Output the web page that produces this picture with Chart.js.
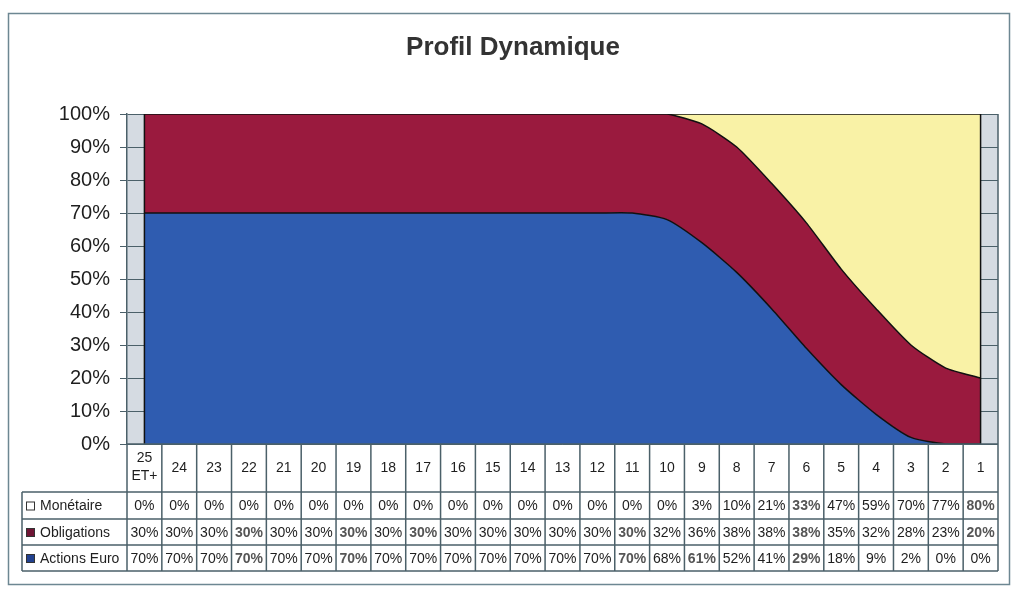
<!DOCTYPE html>
<html lang="fr">
<head>
<meta charset="utf-8">
<title>Profil Dynamique</title>
<script src="https://cdn.jsdelivr.net/npm/chart.js@4.4.1/dist/chart.umd.min.js"></script>
<style>
  html, body { margin: 0; padding: 0; background: #fff; }
  #wrap { width: 1013px; height: 594px; }
</style>
</head>
<body>
<div id="wrap"><canvas id="profil" width="1013" height="594"></canvas></div>
<script>
// Profil Dynamique - répartition par horizon (années restantes)

const CATEGORIES  = [["25", "ET+"], "24", "23", "22", "21", "20", "19", "18", "17", "16", "15", "14", "13",
                     "12", "11", "10", "9", "8", "7", "6", "5", "4", "3", "2", "1"];
const MONETAIRE   = [0, 0, 0, 0, 0, 0, 0, 0, 0, 0, 0, 0, 0, 0, 0, 0, 3, 10, 21, 33, 47, 59, 70, 77, 80];
const OBLIGATIONS = [30, 30, 30, 30, 30, 30, 30, 30, 30, 30, 30, 30, 30, 30, 30, 32, 36, 38, 38, 38, 35, 32, 28, 23, 20];
const ACTIONS     = [70, 70, 70, 70, 70, 70, 70, 70, 70, 70, 70, 70, 70, 70, 70, 68, 61, 52, 41, 29, 18, 9, 2, 0, 0];

const FONT = "'Liberation Sans', Arial, sans-serif";
const LINE = "#4b6069";

// rows of the data table, top to bottom (as in the original sheet)
const TABLE_ROWS = [
    { name: "Monétaire",    values: MONETAIRE,   swatch: "#ffffff", bold: [19, 24] },
    { name: "Obligations",  values: OBLIGATIONS, swatch: "#6e1434", bold: [3, 6, 8, 14, 19, 24] },
    { name: "Actions Euro", values: ACTIONS,     swatch: "#22418f", bold: [3, 6, 14, 16, 19] }
];

const tablePlugin = {
    id: "tablePlugin",
    beforeDraw: function (chart) {
        var c = chart.ctx, a = chart.chartArea;
        c.save();
        c.fillStyle = "#ffffff";
        c.fillRect(0, 0, chart.width, chart.height);
        c.fillStyle = "#d5dbe2";   // grey walls on both sides of the areas
        c.fillRect(a.left, a.top, a.right - a.left, a.bottom - a.top);
        c.restore();
    },
    afterDatasetsDraw: function (chart) {
        var c = chart.ctx, xs = chart.scales.x, ys = chart.scales.y;
        var x0 = xs.getPixelForValue(0), xN = xs.getPixelForValue(CATEGORIES.length - 1);
        c.save();
        c.strokeStyle = "#111";
        c.lineWidth = 1.5;
        c.beginPath();
        c.moveTo(x0, ys.getPixelForValue(0)); c.lineTo(x0, ys.getPixelForValue(100));
        c.moveTo(xN, ys.getPixelForValue(0)); c.lineTo(xN, ys.getPixelForValue(100));
        c.stroke();
        c.restore();
    },
    afterDraw: function (chart) {
        var c = chart.ctx, xs = chart.scales.x, ys = chart.scales.y, a = chart.chartArea;
        var half = (xs.getPixelForValue(1) - xs.getPixelForValue(0)) / 2;
        var top = ys.getPixelForValue(0);
        var rowY = [top, top + 48, top + 75, top + 101, top + 127];
        var legendLeft = 22;

        c.save();
        // outer frame
        c.strokeStyle = "#6d8792";
        c.lineWidth = 1.5;
        c.strokeRect(8.5, 13.5, 1001, 571);

        // chart area right edge + base line
        c.strokeStyle = LINE;
        c.beginPath();
        c.moveTo(a.right, a.top); c.lineTo(a.right, a.bottom);
        c.moveTo(a.left, top); c.lineTo(a.right, top);
        c.stroke();

        // table grid
        c.beginPath();
        for (var r = 1; r < rowY.length; r++) {
            c.moveTo(legendLeft, rowY[r]); c.lineTo(a.right, rowY[r]);
        }
        c.moveTo(legendLeft, rowY[1]); c.lineTo(legendLeft, rowY[4]);
        for (var i = 0; i <= CATEGORIES.length; i++) {
            var xb = i < CATEGORIES.length ? xs.getPixelForValue(i) - half : xs.getPixelForValue(i - 1) + half;
            c.moveTo(xb, rowY[0]); c.lineTo(xb, rowY[4]);
        }
        c.stroke();

        // category labels
        c.fillStyle = "#1e1e1e";
        c.font = "14px " + FONT;
        c.textAlign = "center";
        c.textBaseline = "middle";
        for (var k = 0; k < CATEGORIES.length; k++) {
            var cx = xs.getPixelForValue(k);
            var lab = CATEGORIES[k];
            if (Array.isArray(lab)) {
                c.fillText(lab[0], cx, rowY[0] + 14);
                c.fillText(lab[1], cx, rowY[0] + 32);
            } else {
                c.fillText(lab, cx, rowY[0] + 24);
            }
        }

        // data rows
        for (var j = 0; j < TABLE_ROWS.length; j++) {
            var row = TABLE_ROWS[j];
            var cy = (rowY[j + 1] + rowY[j + 2]) / 2 + 1;
            // legend key
            c.fillStyle = row.swatch;
            c.fillRect(26, cy - 5, 9, 9);
            c.strokeStyle = "#333";
            c.lineWidth = 1;
            c.strokeRect(26.5, cy - 4.5, 8, 8);
            c.fillStyle = "#1e1e1e";
            c.font = "14px " + FONT;
            c.textAlign = "left";
            c.fillText(row.name, 40, cy);
            c.textAlign = "center";
            for (var m = 0; m < row.values.length; m++) {
                var em = row.bold.indexOf(m) >= 0;
                c.font = (em ? "bold " : "") + "14px " + FONT;
                c.fillStyle = em ? "#555" : "#1e1e1e";
                c.fillText(row.values[m] + "%", xs.getPixelForValue(m), cy);
            }
        }
        c.restore();
    }
};

new Chart(document.getElementById("profil"), {
    type: "line",
    data: {
        labels: CATEGORIES,
        datasets: [
            { label: "Actions Euro", data: ACTIONS,     backgroundColor: "#2f5cb0", fill: "origin" },
            { label: "Obligations",  data: OBLIGATIONS, backgroundColor: "#9a1a3e", fill: "-1" },
            { label: "Monétaire",    data: MONETAIRE,   backgroundColor: "#f9f2a6", fill: "-1" }
        ].map(function (d) {
            d.borderColor = "#111";
            d.borderWidth = 1.5;
            d.pointRadius = 0;
            d.tension = 0.2;
            return d;
        })
    },
    options: {
        responsive: false,
        animation: false,
        layout: { padding: { left: 28, right: 15, top: 13, bottom: 150 } },
        plugins: {
            legend: { display: false },
            tooltip: { enabled: false },
            title: {
                display: true,
                text: "Profil Dynamique",
                color: "#333",
                font: { family: FONT, size: 26, weight: "bold", lineHeight: 1.2 },
                padding: { top: 19.4, bottom: 50.4 }
            }
        },
        scales: {
            x: { display: false, offset: true },
            y: {
                stacked: true,
                min: 0,
                max: 100,
                afterFit: function (s) { s.width = 99; },
                border: { display: true, color: LINE, width: 1.5 },
                grid: { color: LINE, lineWidth: 1, tickLength: 7 },
                ticks: {
                    stepSize: 10,
                    padding: 10,
                    color: "#1e1e1e",
                    font: { family: FONT, size: 20 },
                    callback: function (v) { return v + "%"; }
                }
            }
        }
    },
    plugins: [tablePlugin]
});
</script>
</body>
</html>
